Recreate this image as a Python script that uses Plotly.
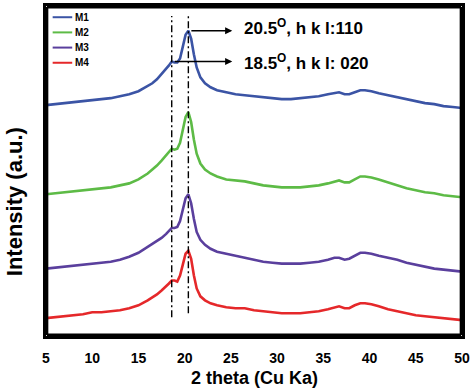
import plotly.graph_objects as go

two_theta = [5, 6, 7, 8, 9, 10, 11, 12, 13, 14, 15, 16,
             16.5, 17, 17.5, 18,
             18.3, 18.6, 18.9, 19.2, 19.5, 19.8, 20.1, 20.4, 20.7, 21.0, 21.3, 21.7,
             22.2, 22.8, 23.5,
             24.5, 25.5, 26.5, 27.5, 28.5, 29.5, 30.5, 31.5, 32.5, 33.5, 34.5, 35.5,
             36.2, 36.7, 37.3, 37.8, 38.4, 39.0, 39.5, 40.2,
             41, 42, 43, 44, 45, 46, 47, 48, 49, 50]

m1 = [233, 234, 235, 236, 237, 238, 239, 240, 242, 244, 247, 252,
      255, 259, 264, 269,
      273, 277, 276, 276, 280, 292, 304, 308, 300, 284, 271, 261,
      255, 251, 248,
      246, 244, 243, 242, 241, 240, 239, 239, 240, 241, 242, 244,
      245, 246, 244, 244, 246, 248, 248, 247,
      245, 243, 241, 239, 237, 235, 234, 232, 231, 230]

m2 = [143, 144, 145, 146, 147, 148, 149, 150, 152, 154, 158, 164,
      168, 172, 177, 182,
      186, 189, 188, 189, 195, 208, 221, 226, 216, 198, 184, 174,
      168, 164, 161,
      158, 157, 156, 154, 152, 151, 150, 150, 150, 151, 152, 154,
      156, 157, 155, 155, 158, 161, 161, 160,
      158, 155, 152, 149, 147, 145, 144, 142, 141, 140]

m3 = [68, 69, 70, 71, 72, 73, 74, 75, 77, 80, 84, 90,
      93, 96, 99, 103,
      106, 109, 109, 110, 116, 128, 139, 143, 134, 118, 105, 97,
      92, 88, 85,
      83, 81, 79, 77, 75, 74, 73, 73, 73, 74, 75, 77,
      79, 79, 77, 78, 81, 84, 84, 83,
      81, 79, 77, 74, 72, 70, 68, 67, 66, 65]

m4 = [18, 19, 20, 21, 22, 24, 24, 25, 26, 28, 31, 36,
      39, 42, 46, 50,
      53, 56, 56, 55, 61, 72, 83, 86, 78, 61, 48, 40,
      36, 33, 31,
      29, 28, 28, 26, 25, 24, 23, 23, 23, 24, 25, 27,
      29, 30, 28, 28, 31, 33, 33, 32,
      30, 27, 25, 23, 21, 20, 19, 18, 17, 16]

series_names = ["M1", "M2", "M3", "M4"]
series_values = [m1, m2, m3, m4]
series_colors = ["#3b54a5", "#5dbb46", "#5a3f9d", "#e5282a"]

x_ticks = [5, 10, 15, 20, 25, 30, 35, 40, 45, 50]
x_tick_text = ["<b>%d</b>" % v for v in x_ticks]
x_range = [5, 50]
y_range = [0, 333]

peak_020 = 18.6
peak_110 = 20.4
label_110 = "<b>20.5<sup>O</sup>, h k l:110</b>"
label_020 = "<b>18.5<sup>O</sup>, h k l: 020</b>"

FONT = "Arial, Liberation Sans, sans-serif"

fig = go.Figure()
for name, vals, col in zip(series_names, series_values, series_colors):
    fig.add_trace(go.Scatter(x=two_theta, y=vals, mode="lines", name=name,
                             line=dict(color=col, width=2.6), showlegend=False))

# legend drawn as small line keys + labels (paper coordinates)
legend_rows = [0.966, 0.920, 0.874, 0.828]
for name, col, yy in zip(series_names, series_colors, legend_rows):
    fig.add_shape(type="line", xref="paper", yref="paper", x0=0.016, x1=0.063, y0=yy, y1=yy,
                  line=dict(color=col, width=2))
    fig.add_annotation(x=0.064, y=yy, xref="paper", yref="paper", text="<b>%s</b>" % name,
                       showarrow=False, xanchor="left", yanchor="middle",
                       font=dict(size=10, color="black", family=FONT))

# dash-dot reference lines
dash = "7px,3px,2px,3px"
fig.add_shape(type="line", xref="x", yref="y", x0=peak_020, x1=peak_020, y0=19, y1=323,
              line=dict(color="black", width=1.4, dash=dash))
fig.add_shape(type="line", xref="x", yref="y", x0=peak_110, x1=peak_110, y0=23, y1=323,
              line=dict(color="black", width=1.4, dash=dash))

# plot frame as four slightly inset paper-referenced lines
ix, iy = 0.002, 0.003
for (a0, b0, a1, b1) in [(ix, iy, 1 - ix, iy), (ix, 1 - iy, 1 - ix, 1 - iy),
                         (ix, iy, ix, 1 - iy), (1 - ix, iy, 1 - ix, 1 - iy)]:
    fig.add_shape(type="line", xref="paper", yref="paper", x0=a0, y0=b0, x1=a1, y1=b1,
                  line=dict(color="black", width=3))

# arrows
y110 = m1[two_theta.index(peak_110)]
y020 = m1[two_theta.index(peak_020)]
for px, yv in ((peak_110, y110), (peak_020, y020)):
    fig.add_annotation(x=25.15, y=yv, ax=px, ay=yv,
                       xref="x", yref="y", axref="x", ayref="y", text=" ",
                       showarrow=True, arrowhead=2, arrowsize=1.1, arrowwidth=1.3,
                       arrowcolor="black")

fig.add_annotation(x=26.2, y=y110 + 4, xref="x", yref="y", text=label_110, showarrow=False,
                   xanchor="left", yanchor="middle",
                   font=dict(size=17, color="black", family=FONT))
fig.add_annotation(x=26.2, y=y020 - 1, xref="x", yref="y", text=label_020, showarrow=False,
                   xanchor="left", yanchor="middle",
                   font=dict(size=17, color="black", family=FONT))

# axis titles
fig.add_annotation(x=-0.077, y=136, xref="paper", yref="y", text="<b>Intensity (a.u.)</b>",
                   textangle=-90, showarrow=False, xanchor="center", yanchor="middle",
                   font=dict(size=22, color="black", family=FONT))
fig.add_annotation(x=27.5, y=-0.126, xref="x", yref="paper", text="<b>2 theta (Cu Ka)</b>",
                   showarrow=False, xanchor="center", yanchor="middle",
                   font=dict(size=18, color="black", family=FONT))

fig.update_layout(
    width=474, height=388,
    margin=dict(l=46, r=12, t=3, b=52),
    paper_bgcolor="white", plot_bgcolor="rgba(255,255,255,0)",
    font=dict(family=FONT, color="black"),
    showlegend=False,
)
fig.update_xaxes(range=x_range, tickvals=x_ticks, ticktext=x_tick_text,
                 ticks="outside", ticklen=7, tickcolor="rgba(0,0,0,0)",
                 showgrid=False, zeroline=False,
                 showline=True, linewidth=3, linecolor="black", mirror=True,
                 tickfont=dict(size=14, family=FONT))
fig.update_yaxes(range=y_range, showticklabels=False, showgrid=False,
                 zeroline=False, showline=True, linewidth=3, linecolor="black", mirror=True)

fig.write_html("out.html", config={"displayModeBar": False},
               post_script="document.body.style.margin='0';")
